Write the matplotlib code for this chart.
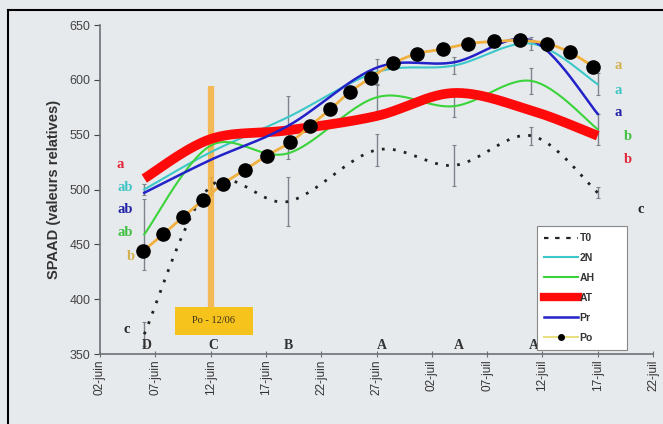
import numpy as np
import matplotlib
matplotlib.use("Agg")
import matplotlib.pyplot as plt
from matplotlib.patches import Rectangle
from matplotlib.lines import Line2D

# ---------------- data ----------------
tick_labels = ["02-juin", "07-juin", "12-juin", "17-juin", "22-juin", "27-juin",
               "02-juil", "07-juil", "12-juil", "17-juil", "22-juil"]
# sampling dates, days after 02-juin
days = [4, 10, 17, 25, 32, 39, 45]
t0 = [368, 503, 489, 536, 522, 549, 497]
n2 = [500, 534, 566, 607, 613, 633, 596]
ah = [459, 540, 533, 584, 576, 599, 555]
at = [510, 546, 554, 567, 588, 572, 549]
pr = [497, 527, 558, 611, 616, 636, 569]
t0_err = [11, 8, 22, 15, 19, 8, 5]
n2_err = [5, 0, 19, 12, 8, 6, 10]
ah_err = [32, 0, 5, 12, 10, 12, 14]

po_days = [3.9, 5.7, 7.5, 9.3, 11.1, 13.1, 15.1, 17.2, 19.0, 20.8, 22.6, 24.5,
           26.5, 28.7, 31.0, 33.3, 35.6, 38.0, 40.4, 42.5, 44.6]
po = [444, 459, 475, 490, 505, 518, 531, 543, 558, 573, 589, 602,
      615, 624, 628, 633, 635, 636, 633, 625, 612]

left_letters = ["a", "ab", "ab", "ab", "b", "c"]
right_letters = ["a", "a", "a", "b", "b", "c"]
axis_letters = ["D", "C", "B", "A", "A", "A", "D"]
box_text = "Po - 12/06"

# ---------------- helpers ----------------
XS, YS = 11.06, 54.6 / 50.0  # px per unit (for smoothing in display-like space)


def smooth(xs, ys, n=30):
    P = np.column_stack([np.asarray(xs, float) * XS, np.asarray(ys, float) * YS])
    out = [P[0]]
    m = len(P)
    for i in range(m - 1):
        p0 = P[i - 1] if i > 0 else P[i]
        p1, p2 = P[i], P[i + 1]
        p3 = P[i + 2] if i + 2 < m else P[i + 1]
        c1 = p1 + (p2 - p0) / 6.0
        c2 = p2 - (p3 - p1) / 6.0
        t = np.linspace(0, 1, n)[1:, None]
        seg = ((1 - t) ** 3) * p1 + 3 * ((1 - t) ** 2) * t * c1 + 3 * (1 - t) * t ** 2 * c2 + t ** 3 * p2
        out.extend(seg)
    out = np.array(out)
    return out[:, 0] / XS, out[:, 1] / YS


plt.rcParams['font.family'] = ['Liberation Sans', 'DejaVu Sans']

W, H = 663, 424
fig = plt.figure(figsize=(W / 100, H / 100), dpi=100)
bg = "#e7eaed"
fig.patch.set_facecolor(bg)
ax = fig.add_axes([100 / W, (H - 354) / H, (653 - 100) / W, (354 - 25) / H])
ax.set_facecolor(bg)

# frame lines (top and left)
fig.add_artist(Line2D([8 / W, 8 / W], [0, 1 - 10 / H], color="black", lw=1.5))
fig.add_artist(Line2D([8 / W, 1.0], [1 - 10 / H, 1 - 10 / H], color="black", lw=1.5))

ax.set_xlim(0, 50)
ax.set_ylim(350, 650)

# error bars
for ys, es in [(t0, t0_err), (n2, n2_err), (ah, ah_err)]:
    ax.errorbar(days, ys, yerr=es, fmt="none", ecolor="#7d838a", elinewidth=1.0,
                capsize=1.5, capthick=0.8, zorder=2)

# orange vertical band + box
ax.plot([10, 10], [392, 594], color="#f5b13c", lw=4.5, alpha=0.85, zorder=2.5, solid_capstyle="butt")
bx0 = (175 - 100) / XS
bx1 = (253 - 100) / XS
by0 = 350 + (354 - 335) / YS
by1 = 350 + (354 - 307) / YS
ax.add_patch(Rectangle((bx0, by0), bx1 - bx0, by1 - by0, facecolor="#f6c21c",
                       edgecolor="none", zorder=6))
ax.text((bx0 + bx1) / 2, (by0 + by1) / 2, box_text, ha="center", va="center",
        fontsize=7.5, family="Liberation Serif", color="#3a3020", zorder=7)

# series
x, y = smooth(days, t0)
ax.plot(x, y, color="#222222", lw=2.0, ls=(0, (1, 3)), zorder=3, label="T0")
x, y = smooth(days, n2)
ax.plot(x, y, color="#3cc8c8", lw=1.5, zorder=3, label="2N")
x, y = smooth(days, ah)
ax.plot(x, y, color="#3ad43a", lw=1.5, zorder=3, label="AH")
x, y = smooth(days, at)
ax.plot(x, y, color="#ff0a0a", lw=7, zorder=3.5, label="AT", solid_capstyle="butt")
x, y = smooth(days, pr)
ax.plot(x, y, color="#2222c8", lw=1.8, zorder=4, label="Pr")
x, y = smooth(po_days, po, n=10)
ax.plot(x, y, color="#f0b040", lw=2.0, zorder=4.5)
ax.plot(po_days, po, ls="none", marker="o", ms=9.5, color="black", zorder=5)

# axes styling
for s in ["top", "right"]:
    ax.spines[s].set_visible(False)
for s in ["left", "bottom"]:
    ax.spines[s].set_color("#6c7178")
    ax.spines[s].set_linewidth(1.2)
ax.set_xticks(np.arange(0, 51, 5))
ax.set_xticklabels(tick_labels, rotation=90, fontsize=8.5, color="#333333")
ax.set_yticks(np.arange(350, 651, 50))
ax.tick_params(axis="y", labelsize=9, colors="#444444", length=4, direction="out", pad=3)
ax.tick_params(axis="x", length=4, direction="inout", colors="#6c7178", pad=2)
for lbl in ax.get_xticklabels():
    lbl.set_color("#333333")
for lbl in ax.get_yticklabels():
    lbl.set_color("#444444")
ax.set_ylabel("SPAAD (valeurs relatives)", fontsize=10.5, fontweight="bold",
              color="#333333", labelpad=6)

# letters
def px2d(px, py):
    return (px - 100) / XS, 350 + (354 - py) / YS

serif = "Liberation Serif"
left_pos = [(120, 165), (125, 188), (125, 210), (125, 233), (131, 257), (127, 330)]
left_cols = ["#e0283a", "#40c4c4", "#2222a8", "#40c040", "#d2b050", "#222222"]
for t, (px, py), c in zip(left_letters, left_pos, left_cols):
    xx, yy = px2d(px, py)
    ax.text(xx, yy, t, color=c, fontsize=10.5, fontweight="bold", family=serif,
            ha="center", va="center", zorder=6, clip_on=False)
right_pos = [(618, 67), (618, 92), (618, 114), (628, 137), (628, 160), (641, 210)]
right_cols = ["#d2b050", "#40c4c4", "#2222a8", "#40c040", "#e0283a", "#222222"]
for t, (px, py), c in zip(right_letters, right_pos, right_cols):
    xx, yy = px2d(px, py)
    ax.text(xx, yy, t, color=c, fontsize=10.5, fontweight="bold", family=serif,
            ha="center", va="center", zorder=6, clip_on=False)
axis_pos = [147, 213, 288, 382, 459, 534, 605]
for t, px in zip(axis_letters, axis_pos):
    xx, yy = px2d(px, 346)
    ax.text(xx, yy, t, color="#333333", fontsize=10, fontweight="bold", family=serif,
            ha="center", va="center", zorder=6, clip_on=False)

# legend
handles = [
    Line2D([], [], color="#222222", lw=1.6, ls=(0, (2, 3))),
    Line2D([], [], color="#3cc8c8", lw=1.5),
    Line2D([], [], color="#3ad43a", lw=1.5),
    Line2D([], [], color="#ff0a0a", lw=6),
    Line2D([], [], color="#2222c8", lw=1.8),
    Line2D([], [], color="#e8e080", lw=1.5, marker="o", ms=4, mfc="black", mec="black"),
]
leg = ax.legend(handles, ["T0", "2N", "AH", "AT", "Pr", "Po"],
                loc="lower left", bbox_to_anchor=((537 - 100) / 553, (354 - 350) / 329,
                                                  (627 - 537) / 553, (350 - 198) / 329),
                mode="expand", fontsize=7.5, frameon=True, fancybox=False,
                handlelength=3.2, handletextpad=0.2, labelspacing=0.95,
                borderpad=0.7, borderaxespad=0)
leg.get_frame().set_edgecolor("#888888")
leg.get_frame().set_linewidth(0.8)
leg.get_frame().set_facecolor("white")
leg.get_frame().set_alpha(1)
leg.set_zorder(8)
for t in leg.get_texts():
    t.set_fontweight("bold")
    t.set_color("#333333")

fig.savefig("out.png", dpi=100, facecolor=fig.get_facecolor())
